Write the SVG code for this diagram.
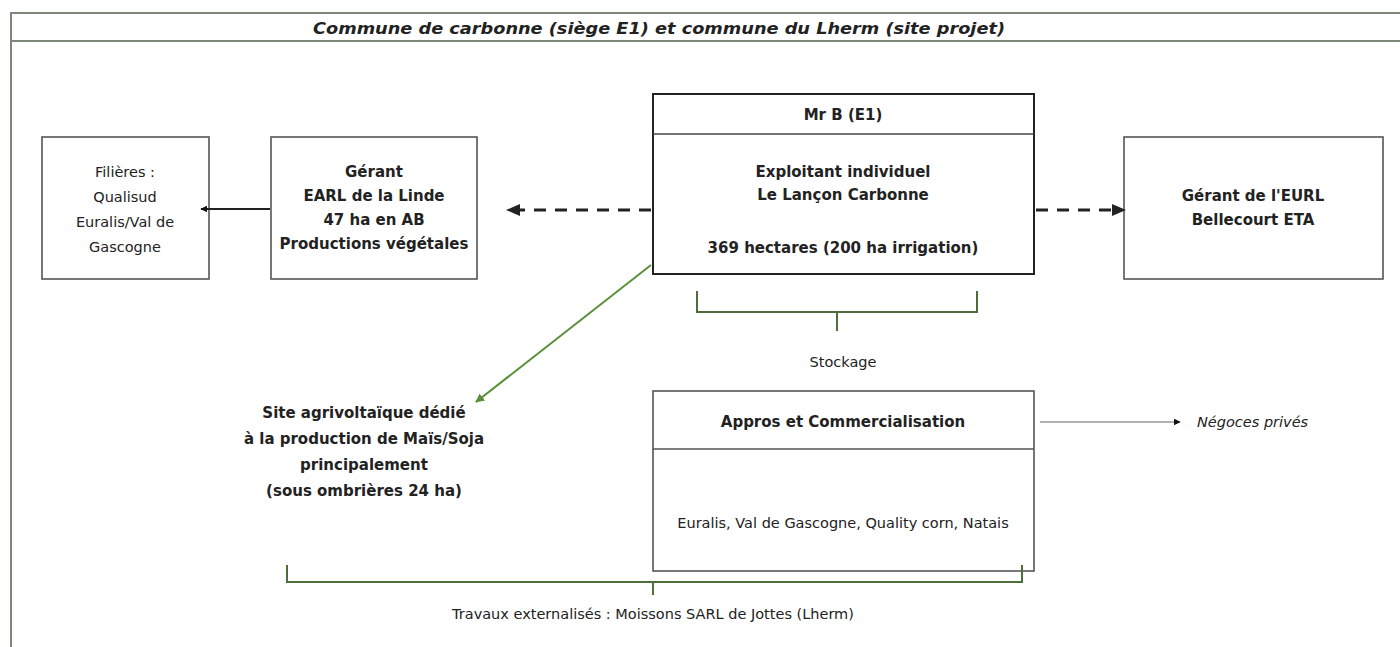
<svg xmlns="http://www.w3.org/2000/svg" width="1400" height="647" viewBox="0 0 1400 647">
<defs>
<style>
text{font-family:"DejaVu Sans","Liberation Sans",sans-serif;fill:#222;text-anchor:middle;dominant-baseline:central}
.b{font-weight:bold;font-size:15px}
.r{font-size:14.5px}
.box{fill:#fff;stroke:#555;stroke-width:1.6}
.main{fill:#fff;stroke:#222;stroke-width:2}
.frame{stroke:#7d887b;stroke-width:2;fill:none}
.green{stroke:#4d6e3a;stroke-width:2;fill:none}
</style>
<marker id="ah" viewBox="0 0 10 10" refX="9" refY="5" markerWidth="7" markerHeight="7" markerUnits="userSpaceOnUse" orient="auto"><path d="M0,0 L10,5 L0,10 z" fill="#111"/></marker>
<marker id="ahg" viewBox="0 0 10 10" refX="9" refY="5" markerWidth="9" markerHeight="9" markerUnits="userSpaceOnUse" orient="auto"><path d="M0,0 L10,5 L0,10 z" fill="#5b8f3c"/></marker>
</defs>
<rect width="1400" height="647" fill="#fff"/>
<g id="frame">
<line class="frame" x1="10" y1="13" x2="1400" y2="13"/>
<line class="frame" x1="10" y1="41" x2="1400" y2="41"/>
<line class="frame" x1="11" y1="13" x2="11" y2="647"/>
<text x="659" y="28" textLength="692" lengthAdjust="spacingAndGlyphs" style="font-style:italic;font-weight:bold;font-size:16px">Commune de carbonne (siège E1) et commune du Lherm (site projet)</text>
</g>
<g id="filieres">
<rect class="box" x="42" y="137" width="167" height="142"/>
<text class="r" x="125" y="172">Filières :</text>
<text class="r" x="125" y="197">Qualisud</text>
<text class="r" x="125" y="222">Euralis/Val de</text>
<text class="r" x="125" y="247">Gascogne</text>
</g>
<g id="earl">
<rect class="box" x="271" y="137" width="206" height="142"/>
<text class="b" x="374" y="172">Gérant</text>
<text class="b" x="374" y="196">EARL de la Linde</text>
<text class="b" x="374" y="220">47 ha en AB</text>
<text class="b" x="374" y="244">Productions végétales</text>
</g>
<g id="mrb">
<rect class="main" x="653" y="94" width="381" height="180"/>
<line x1="653" y1="134" x2="1034" y2="134" stroke="#444" stroke-width="1.6"/>
<text class="b" x="843" y="115">Mr B (E1)</text>
<text class="b" x="843" y="172">Exploitant individuel</text>
<text class="b" x="843" y="195">Le Lançon Carbonne</text>
<text class="b" x="843" y="248">369 hectares (200 ha irrigation)</text>
</g>
<g id="eurl">
<rect class="box" x="1124" y="137" width="259" height="142"/>
<text class="b" x="1253" y="196">Gérant de l'EURL</text>
<text class="b" x="1253" y="220">Bellecourt ETA</text>
</g>
<g id="site">
<text class="b" x="364" y="413">Site agrivoltaïque dédié</text>
<text class="b" x="364" y="439">à la production de Maïs/Soja</text>
<text class="b" x="364" y="465">principalement</text>
<text class="b" x="364" y="491">(sous ombrières 24 ha)</text>
</g>
<g id="appros">
<rect class="box" x="653" y="391" width="381" height="180"/>
<line x1="653" y1="449" x2="1034" y2="449" stroke="#555" stroke-width="1.6"/>
<text class="b" x="843" y="422">Appros et Commercialisation</text>
<text class="r" x="843" y="523">Euralis, Val de Gascogne, Quality corn, Natais</text>
</g>
<g id="stockage">
<text class="r" x="843" y="362">Stockage</text>
</g>
<g id="negoces">
<text x="1197" y="422" style="font-style:italic;font-size:14.5px;text-anchor:start">Négoces privés</text>
</g>
<g id="travaux">
<text class="r" x="653" y="614">Travaux externalisés : Moissons SARL de Jottes (Lherm)</text>
</g>
<g id="connectors">
<line x1="270" y1="209" x2="201" y2="209" stroke="#222" stroke-width="2" marker-end="url(#ah)"/>
<line x1="651" y1="210" x2="508" y2="210" stroke="#222" stroke-width="3" stroke-dasharray="12,9"/>
<path d="M520,204 L506,210 L520,216 z" fill="#222"/>
<line x1="1036" y1="210" x2="1112" y2="210" stroke="#222" stroke-width="3" stroke-dasharray="12,9"/>
<path d="M1112,204 L1126,210 L1112,216 z" fill="#222"/>
<line x1="651" y1="265" x2="476" y2="402" stroke="#5b8f3c" stroke-width="2" marker-end="url(#ahg)"/>
<path class="green" d="M697,291 V312 H977 V291 M837,312 V331"/>
<path class="green" d="M287,565 V582 H1022 V565 M653,582 V595"/>
<line x1="1040" y1="422" x2="1180" y2="422" stroke="#666" stroke-width="1.2" marker-end="url(#ah)"/>
</g>
</svg>
